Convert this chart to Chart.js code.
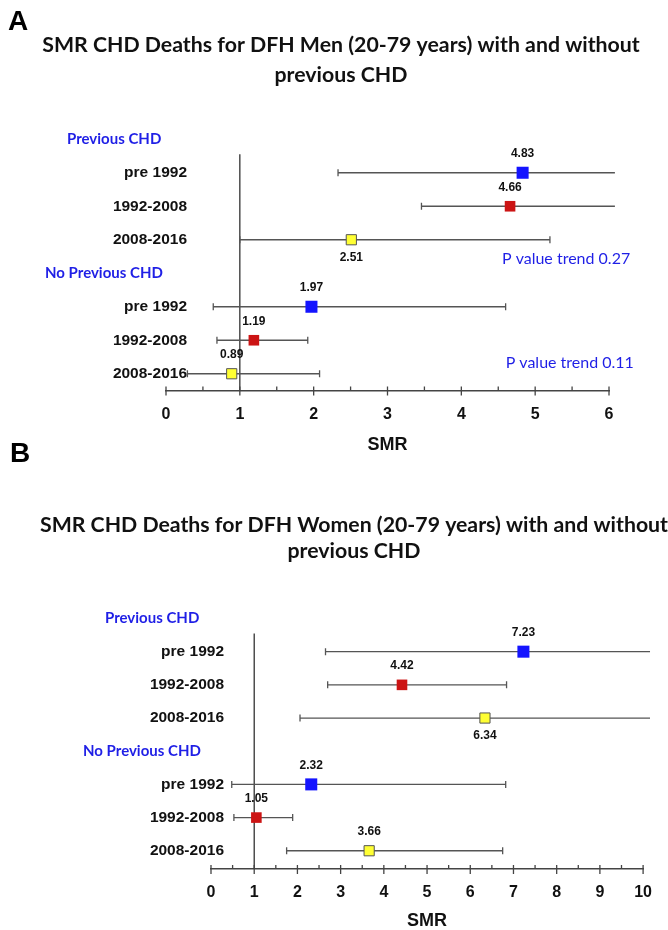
<!DOCTYPE html>
<html><head><meta charset="utf-8">
<script src="https://cdn.jsdelivr.net/npm/chart.js@4/dist/chart.umd.min.js"></script>
<style>
html,body{margin:0;padding:0;background:#fff;}
#wrap{position:relative;width:668px;height:930px;background:#fff;}
canvas{position:absolute;left:0;top:0;}
</style></head><body>
<div id="wrap"><canvas id="cA" width="668" height="930"></canvas><canvas id="cB" width="668" height="930"></canvas></div>
<script>
// ---- data ----
const periods = ['pre 1992', '1992-2008', '2008-2016'];
const groups = ['Previous CHD', 'No Previous CHD'];
const titleA = ['SMR CHD Deaths for DFH Men (20-79 years) with and without', 'previous CHD'];
const titleB = ['SMR CHD Deaths for DFH Women (20-79 years) with and without', 'previous CHD'];
const axisLabel = 'SMR';
// order: Previous CHD (pre 1992, 1992-2008, 2008-2016), No Previous CHD (same)
const menSMR   = [4.83, 4.66, 2.51, 1.97, 1.19, 0.89];
const menLower = [2.33, 3.46, 1.00, 0.64, 0.69, 0.29];
const menUpper = [6.08, 6.08, 5.20, 4.60, 1.92, 2.08];
const menPTrend = ['P value trend 0.27', 'P value trend 0.11'];
const womenSMR   = [7.23, 4.42, 6.34, 2.32, 1.05, 3.66];
const womenLower = [2.65, 2.70, 2.06, 0.48, 0.53, 1.75];
const womenUpper = [10.16, 6.84, 10.16, 6.82, 1.89, 6.75];
const menTicks = [0, 1, 2, 3, 4, 5, 6];
const womenTicks = [0, 1, 2, 3, 4, 5, 6, 7, 8, 9, 10];

// ---- styles ----
const markerStyle = [
  {fill: '#1414ff', stroke: '#1414ff', r: 8.5, bw: 0},
  {fill: '#cc1414', stroke: '#cc1414', r: 7.5, bw: 0},
  {fill: '#ffff33', stroke: '#555555', r: 7.2, bw: 1}
];
const rowOf = i => Math.floor(i / 3) * 4 + (i % 3) + 1;
const LBL = '"Liberation Sans", Arial, sans-serif';

const forestPlugin = {
  id: 'forest',
  beforeDatasetsDraw(chart, args, o) {
    const {ctx, scales: {x, y}, chartArea} = chart;
    ctx.save();
    ctx.strokeStyle = '#333';
    ctx.lineWidth = 1.3;
    const rx = x.getPixelForValue(1);
    ctx.beginPath();
    ctx.moveTo(rx, y.getPixelForValue(o.refStart));
    ctx.lineTo(rx, chartArea.bottom);
    ctx.stroke();
    ctx.strokeStyle = '#555';
    ctx.lineWidth = 1.3;
    o.lower.forEach((lo, i) => {
      const hi = o.upper[i];
      const py = y.getPixelForValue(rowOf(i));
      const x0 = x.getPixelForValue(lo), x1 = x.getPixelForValue(hi);
      ctx.beginPath();
      ctx.moveTo(x0, py); ctx.lineTo(x1, py);
      if (lo >= x.min) { ctx.moveTo(x0, py - 3.5); ctx.lineTo(x0, py + 3.5); }
      if (hi <= x.max) { ctx.moveTo(x1, py - 3.5); ctx.lineTo(x1, py + 3.5); }
      ctx.stroke();
    });
    ctx.restore();
  },
  afterDatasetsDraw(chart, args, o) {
    const {ctx, scales: {x, y}} = chart;
    ctx.save();
    ctx.font = 'bold 12px ' + LBL;
    ctx.fillStyle = '#111';
    ctx.textAlign = 'center';
    ctx.textBaseline = 'middle';
    o.smr.forEach((v, i) => {
      const px = x.getPixelForValue(v), py = y.getPixelForValue(rowOf(i));
      const dy = (i === o.belowIndex) ? 18 : -19;
      ctx.fillText(v.toFixed(2), px, py + dy);
    });
    ctx.restore();
  },
  afterDraw(chart, args, o) {
    const {ctx, scales: {x, y}, chartArea} = chart;
    ctx.save();
    // axis ticks
    const ay = x.top;
    ctx.strokeStyle = '#444';
    ctx.lineWidth = 1.3;
    const tv = x.ticks.map(t => t.value);
    ctx.beginPath();
    tv.forEach((v, k) => {
      const px = x.getPixelForValue(v);
      ctx.moveTo(px, ay - 4); ctx.lineTo(px, ay + 5);
      if (k < tv.length - 1) {
        const mx = x.getPixelForValue((v + tv[k + 1]) / 2);
        ctx.moveTo(mx, ay - 4); ctx.lineTo(mx, ay);
      }
    });
    ctx.stroke();
    // category labels (from the y scale's ticks)
    ctx.fillStyle = '#111';
    ctx.font = 'bold 15.5px ' + LBL;
    ctx.textAlign = 'right';
    ctx.textBaseline = 'middle';
    y.ticks.forEach(t => {
      ctx.fillText(periods[(t.value % 4) - 1], chartArea.left + o.labelShift, y.getPixelForValue(t.value));
    });
    // panel letter
    ctx.fillStyle = '#000';
    ctx.font = 'bold 28px ' + LBL;
    ctx.textAlign = 'left';
    ctx.textBaseline = 'alphabetic';
    ctx.fillText(o.letter, o.letterPos[0], o.letterPos[1]);
    // group headers
    ctx.fillStyle = '#1f1fe6';
    ctx.font = 'bold 15px Lato';
    ctx.textBaseline = 'middle';
    groups.forEach((g, k) => ctx.fillText(g, o.headerX[k], y.getPixelForValue(k * 4)));
    // p-value trend text
    ctx.font = '16px Lato';
    (o.pTexts || []).forEach((t, k) => {
      ctx.fillText(t, x.getPixelForValue(o.pPos[k][0]), y.getPixelForValue(o.pPos[k][1]));
    });
    ctx.restore();
  }
};

function buildChart(id, c) {
  const datasets = periods.map((name, p) => ({
    label: name,
    xAxisID: 'x', yAxisID: 'y',
    data: [0, 1].map(g => ({x: c.smr[g * 3 + p], y: rowOf(g * 3 + p)})),
    pointStyle: 'rect',
    pointRadius: markerStyle[p].r,
    pointHoverRadius: markerStyle[p].r,
    backgroundColor: markerStyle[p].fill,
    borderColor: markerStyle[p].stroke,
    borderWidth: markerStyle[p].bw,
    clip: false
  }));
  return new Chart(document.getElementById(id), {
    type: 'scatter',
    data: {datasets},
    options: {
      responsive: false, animation: false, devicePixelRatio: 1,
      layout: {padding: c.padding},
      plugins: {
        legend: {display: false}, tooltip: {enabled: false},
        title: {display: true, text: c.title, color: '#111', align: 'center',
          font: {family: 'Lato', weight: 'bold', size: 21.3, lineHeight: c.titleLH / 21.3},
          padding: c.titlePad},
        forest: {smr: c.smr, lower: c.lower, upper: c.upper, belowIndex: 2,
          refStart: 0.45, letter: c.letter, letterPos: c.letterPos, headerX: c.headerX,
          labelShift: c.labelShift, pTexts: c.pTexts, pPos: c.pPos}
      },
      scales: {
        x: {type: 'linear', position: 'bottom', min: c.ticks[0], max: c.ticks[c.ticks.length - 1],
          afterBuildTicks: s => { s.ticks = c.ticks.map(v => ({value: v})); },
          afterFit: s => { s.height = c.xHeight; },
          grid: {display: false, drawTicks: false},
          border: {display: true, color: '#444', width: 1.5},
          ticks: {padding: c.xTickPad, color: '#111', font: {family: LBL, weight: 'bold', size: 16, lineHeight: 1}},
          title: {display: true, text: axisLabel, color: '#111',
            font: {family: LBL, weight: 'bold', size: 18, lineHeight: 1}, padding: {top: 0, bottom: c.smrPad}}},
        y: {type: 'linear', position: 'left', reverse: true, min: -0.5, max: c.yMax,
          afterBuildTicks: s => { s.ticks = [1, 2, 3, 5, 6, 7].map(v => ({value: v})); },
          afterFit: s => { s.width = c.yWidth; },
          grid: {display: false, drawTicks: false}, border: {display: false},
          ticks: {display: false}},
        yR: {type: 'linear', position: 'right', display: true,
          afterFit: s => { s.width = c.rightWidth; },
          grid: {display: false, drawTicks: false}, border: {display: false}, ticks: {display: false}}
      }
    },
    plugins: [forestPlugin]
  });
}

buildChart('cA', {
  title: titleA, smr: menSMR, lower: menLower, upper: menUpper, ticks: menTicks,
  padding: {top: 0, left: 14, right: 0, bottom: 465},
  titleLH: 30, titlePad: {top: 30, bottom: 32.5},
  yMax: 7.5, yWidth: 152, rightWidth: 59, xHeight: 74.5, xTickPad: 16.5, smrPad: 11, labelShift: 21,
  letter: 'A', letterPos: [8, 30], headerX: [67, 45],
  pTexts: menPTrend, pPos: [[4.55, 3.57], [4.60, 6.68]]
});
buildChart('cB', {
  title: titleB, smr: womenSMR, lower: womenLower, upper: womenUpper, ticks: womenTicks,
  padding: {top: 465, left: 40, right: 0, bottom: 0},
  titleLH: 26, titlePad: {top: 47, bottom: 37.9},
  yMax: 7.55, yWidth: 171, rightWidth: 24.7, xHeight: 61, xTickPad: 16, smrPad: 0, labelShift: 13,
  letter: 'B', letterPos: [10, 462], headerX: [105, 83],
  pTexts: [], pPos: []
});
</script>
</body></html>
